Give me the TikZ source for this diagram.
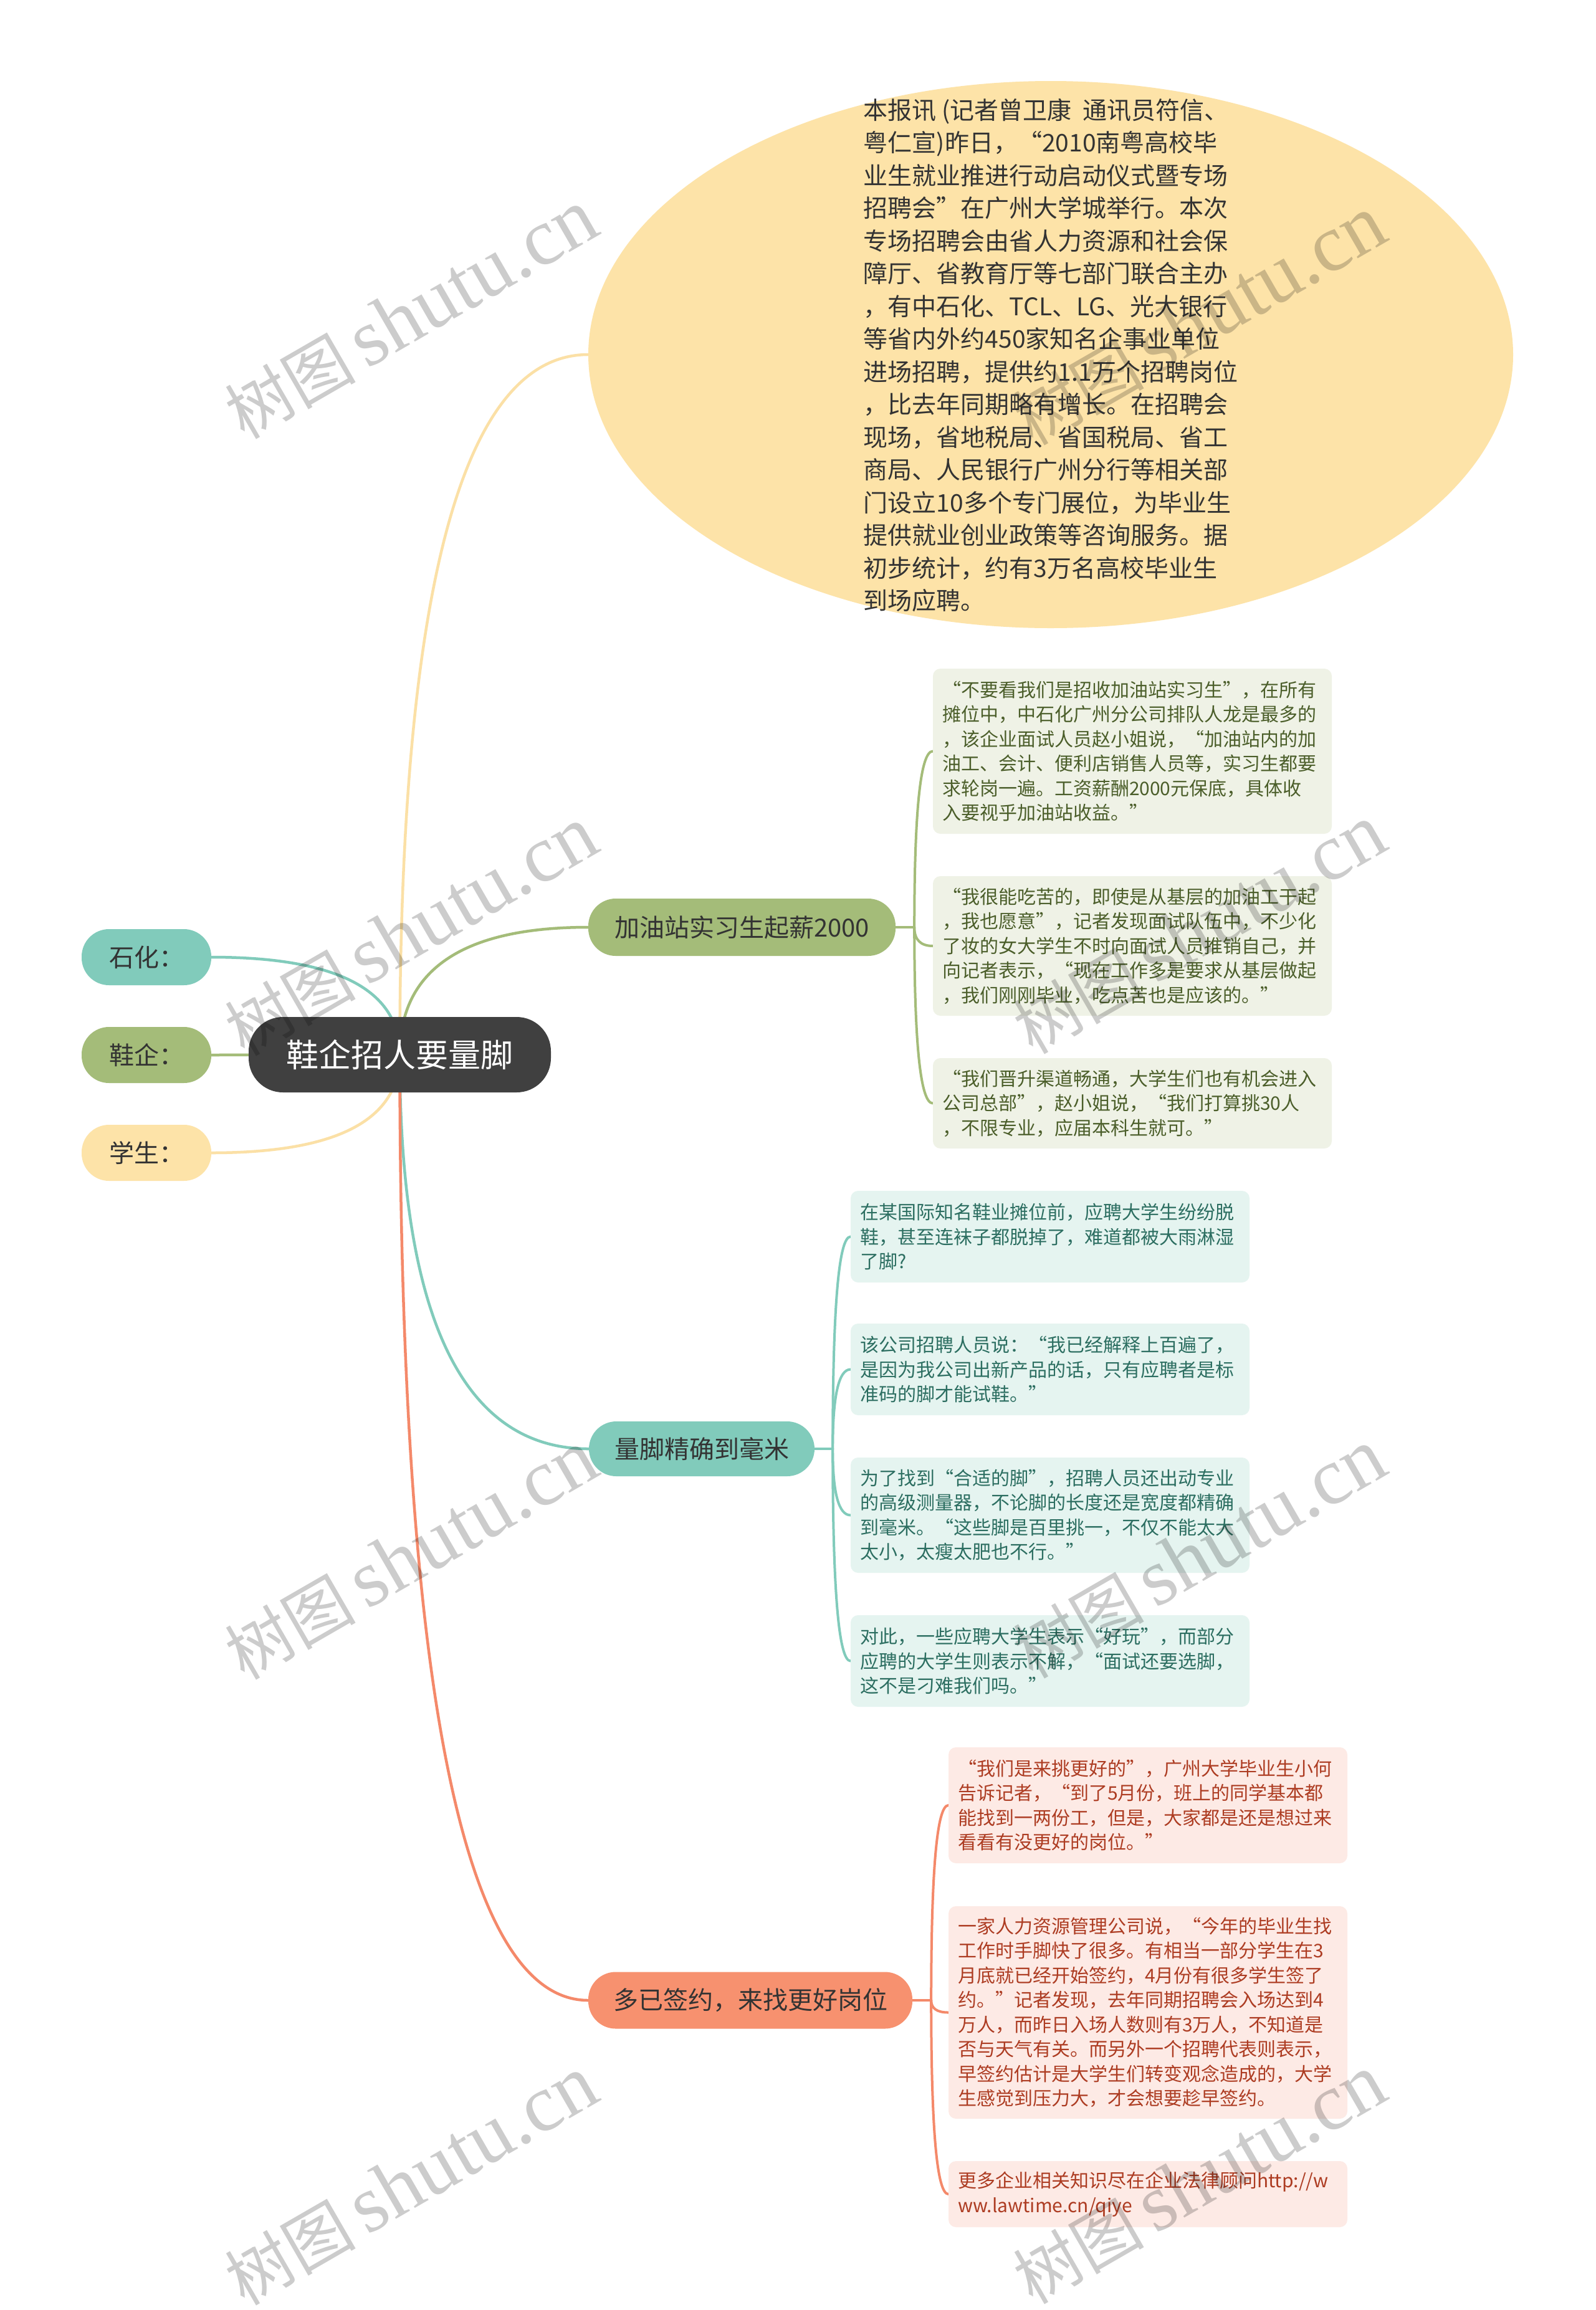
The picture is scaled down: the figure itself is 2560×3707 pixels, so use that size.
\documentclass[tikz,border=0pt]{standalone}
\usepackage{fontspec}
\setmainfont{Noto Sans CJK SC}
\newfontfamily\wmlatin{Liberation Serif}
\usetikzlibrary{calc,shapes.geometric}
\pgfdeclarelayer{bg}
\pgfsetlayers{bg,main}
\definecolor{rootc}{HTML}{404040}
\definecolor{tealc}{HTML}{81CBBB}
\definecolor{olivec}{HTML}{A4BC79}
\definecolor{yelc}{HTML}{FDE3A8}
\definecolor{yell}{HTML}{FBE0A6}
\definecolor{salc}{HTML}{F7916F}
\definecolor{sall}{HTML}{F4896A}
\definecolor{txtc}{HTML}{333333}
\definecolor{gfill}{HTML}{EFF2E6}
\definecolor{gtext}{HTML}{4B5E2A}
\definecolor{tfill}{HTML}{E5F4F0}
\definecolor{ttext}{HTML}{2C6E61}
\definecolor{ofill}{HTML}{FDEAE5}
\definecolor{otext}{HTML}{AD3C22}
\begin{document}
\begin{tikzpicture}[x=1pt,y=-1pt,
  pill/.style={rounded corners=44pt, minimum height=90pt, inner sep=0pt, text=txtc, font=\fontsize{40}{48}\selectfont},
  leaf/.style={rounded corners=12pt, minimum width=640pt, text width=610pt, align=left, inner xsep=15pt, inner ysep=0pt, font=\fontsize{30}{39.5}\selectfont},
  rconn/.style={line width=4.5pt, line cap=round},
  lconn/.style={line width=4pt, line cap=round},
  wm/.style={rotate=30, text=black, text opacity=0.2, inner sep=0pt}
]
\useasboundingbox (0,0) rectangle (2560,3707);

% root and first-level nodes
\node[fill=rootc, rounded corners=55pt, minimum width=485pt, minimum height=121pt, inner sep=0pt, text=white, font=\fontsize{52}{60}\selectfont] (root) at (641.5,1692.5) {鞋企招人要量脚};

\node[pill, fill=tealc, minimum width=208pt] (sh) at (235,1536) {石化：};
\node[pill, fill=olivec, minimum width=208pt] (xq) at (235,1693) {鞋企：};
\node[pill, fill=yelc, minimum width=208pt] (xs) at (235,1850) {学生：};

\node[ellipse, fill=yelc, minimum width=1484pt, minimum height=878pt, inner sep=0pt] (ell) at (1686,569) {};
\node[align=left, inner sep=0pt, text=txtc, font=\fontsize{39}{52.5}\selectfont] (elltext) at (1686,570) {本报讯 (记者曾卫康\ \ 通讯员符信、\\
粤仁宣)昨日，“2010南粤高校毕\\
业生就业推进行动启动仪式暨专场\\
招聘会”在广州大学城举行。本次\\
专场招聘会由省人力资源和社会保\\
障厅、省教育厅等七部门联合主办\\
，有中石化、TCL、LG、光大银行\\
等省内外约450家知名企事业单位\\
进场招聘，提供约1.1万个招聘岗位\\
，比去年同期略有增长。在招聘会\\
现场，省地税局、省国税局、省工\\
商局、人民银行广州分行等相关部\\
门设立10多个专门展位，为毕业生\\
提供就业创业政策等咨询服务。据\\
初步统计，约有3万名高校毕业生\\
到场应聘。};

\node[pill, fill=olivec, minimum width=493pt, minimum height=92pt] (jy) at (1190.5,1488) {加油站实习生起薪2000};
\node[pill, fill=tealc, minimum width=362pt, minimum height=88pt] (lj) at (1126,2325) {量脚精确到毫米};
\node[pill, fill=salc, minimum width=520pt, minimum height=91pt] (dq) at (1204,3210) {多已签约，来找更好岗位};

% green leaves
\node[leaf, fill=gfill, text=gtext, minimum height=265pt] (g1) at (1817,1205.5) {“不要看我们是招收加油站实习生”，在所有\\
摊位中，中石化广州分公司排队人龙是最多的\\
，该企业面试人员赵小姐说，“加油站内的加\\
油工、会计、便利店销售人员等，实习生都要\\
求轮岗一遍。工资薪酬2000元保底，具体收\\
入要视乎加油站收益。”};
\node[leaf, fill=gfill, text=gtext, minimum height=224pt] (g2) at (1817,1518) {“我很能吃苦的，即使是从基层的加油工干起\\
，我也愿意”，记者发现面试队伍中，不少化\\
了妆的女大学生不时向面试人员推销自己，并\\
向记者表示，“现在工作多是要求从基层做起\\
，我们刚刚毕业，吃点苦也是应该的。”};
\node[leaf, fill=gfill, text=gtext, minimum height=145pt] (g3) at (1817,1770.5) {“我们晋升渠道畅通，大学生们也有机会进入\\
公司总部”，赵小姐说，“我们打算挑30人\\
，不限专业，应届本科生就可。”};

% teal leaves
\node[leaf, fill=tfill, text=ttext, minimum height=147pt] (t1) at (1685,1984.5) {在某国际知名鞋业摊位前，应聘大学生纷纷脱\\
鞋，甚至连袜子都脱掉了，难道都被大雨淋湿\\
了脚?};
\node[leaf, fill=tfill, text=ttext, minimum height=147pt] (t2) at (1685,2197.5) {该公司招聘人员说：“我已经解释上百遍了，\\
是因为我公司出新产品的话，只有应聘者是标\\
准码的脚才能试鞋。”};
\node[leaf, fill=tfill, text=ttext, minimum height=185pt] (t3) at (1685,2431.5) {为了找到“合适的脚”，招聘人员还出动专业\\
的高级测量器，不论脚的长度还是宽度都精确\\
到毫米。“这些脚是百里挑一，不仅不能太大\\
太小，太瘦太肥也不行。”};
\node[leaf, fill=tfill, text=ttext, minimum height=147pt] (t4) at (1685,2665.5) {对此，一些应聘大学生表示“好玩”，而部分\\
应聘的大学生则表示不解，“面试还要选脚，\\
这不是刁难我们吗。”};

% orange leaves
\node[leaf, fill=ofill, text=otext, minimum height=186pt] (o1) at (1842,2897) {“我们是来挑更好的”，广州大学毕业生小何\\
告诉记者，“到了5月份，班上的同学基本都\\
能找到一两份工，但是，大家都是还是想过来\\
看看有没更好的岗位。”};
\node[leaf, fill=ofill, text=otext, minimum height=341pt] (o2) at (1842,3229.5) {一家人力资源管理公司说，“今年的毕业生找\\
工作时手脚快了很多。有相当一部分学生在3\\
月底就已经开始签约，4月份有很多学生签了\\
约。”记者发现，去年同期招聘会入场达到4\\
万人，而昨日入场人数则有3万人，不知道是\\
否与天气有关。而另外一个招聘代表则表示，\\
早签约估计是大学生们转变观念造成的，大学\\
生感觉到压力大，才会想要趁早签约。};
\node[leaf, fill=ofill, text=otext, minimum height=106pt] (o3) at (1842,3521) {更多企业相关知识尽在企业法律顾问http://w\\
ww.lawtime.cn/qiye};

% connectors
\begin{pgfonlayer}{bg}
\fill[white] (0,0) rectangle (2560,3707);
% root to first level
\coordinate (cE) at (root.center|-ell.west);
\draw[rconn, draw=yell] (root.center) .. controls ($(root.center)!2/3!(cE)$) and ($(ell.west)!2/3!(cE)$) .. (ell.west);
\coordinate (cJ) at (root.center|-jy.west);
\draw[rconn, draw=olivec] (root.center) .. controls ($(root.center)!2/3!(cJ)$) and ($(jy.west)!2/3!(cJ)$) .. (jy.west);
\coordinate (cL) at (root.center|-lj.west);
\draw[rconn, draw=tealc] (root.center) .. controls ($(root.center)!2/3!(cL)$) and ($(lj.west)!2/3!(cL)$) .. (lj.west);
\coordinate (cD) at (root.center|-dq.west);
\draw[rconn, draw=sall] (root.center) .. controls ($(root.center)!2/3!(cD)$) and ($(dq.west)!2/3!(cD)$) .. (dq.west);
\coordinate (cS) at (root.center|-sh.east);
\draw[rconn, draw=tealc] (root.center) .. controls ($(root.center)!2/3!(cS)$) and ($(sh.east)!2/3!(cS)$) .. (sh.east);
\draw[rconn, draw=olivec] (root.center) -- (xq.east);
\coordinate (cX) at (root.center|-xs.east);
\draw[rconn, draw=yell] (root.center) .. controls ($(root.center)!2/3!(cX)$) and ($(xs.east)!2/3!(cX)$) .. (xs.east);

% green bracket
\coordinate (jyP) at ($(jy.east)+(30,0)$);
\draw[lconn, draw=olivec] (jy.east) -- (jyP);
\coordinate (g1c) at (jyP|-g1.west);
\draw[lconn, draw=olivec] (jyP) .. controls ($(jyP)!2/3!(g1c)$) and ($(g1.west)!2/3!(g1c)$) .. (g1.west);
\coordinate (g2c) at (jyP|-g2.west);
\draw[lconn, draw=olivec] (jyP) .. controls ($(jyP)!2/3!(g2c)$) and ($(g2.west)!2/3!(g2c)$) .. (g2.west);
\coordinate (g3c) at (jyP|-g3.west);
\draw[lconn, draw=olivec] (jyP) .. controls ($(jyP)!2/3!(g3c)$) and ($(g3.west)!2/3!(g3c)$) .. (g3.west);

% teal bracket
\coordinate (ljP) at ($(lj.east)+(29,0)$);
\draw[lconn, draw=tealc] (lj.east) -- (ljP);
\coordinate (t1c) at (ljP|-t1.west);
\draw[lconn, draw=tealc] (ljP) .. controls ($(ljP)!2/3!(t1c)$) and ($(t1.west)!2/3!(t1c)$) .. (t1.west);
\coordinate (t2c) at (ljP|-t2.west);
\draw[lconn, draw=tealc] (ljP) .. controls ($(ljP)!2/3!(t2c)$) and ($(t2.west)!2/3!(t2c)$) .. (t2.west);
\coordinate (t3c) at (ljP|-t3.west);
\draw[lconn, draw=tealc] (ljP) .. controls ($(ljP)!2/3!(t3c)$) and ($(t3.west)!2/3!(t3c)$) .. (t3.west);
\coordinate (t4c) at (ljP|-t4.west);
\draw[lconn, draw=tealc] (ljP) .. controls ($(ljP)!2/3!(t4c)$) and ($(t4.west)!2/3!(t4c)$) .. (t4.west);

% orange bracket
\coordinate (dqP) at ($(dq.east)+(30,0)$);
\draw[lconn, draw=sall] (dq.east) -- (dqP);
\coordinate (o1c) at (dqP|-o1.west);
\draw[lconn, draw=sall] (dqP) .. controls ($(dqP)!2/3!(o1c)$) and ($(o1.west)!2/3!(o1c)$) .. (o1.west);
\coordinate (o2c) at (dqP|-o2.west);
\draw[lconn, draw=sall] (dqP) .. controls ($(dqP)!2/3!(o2c)$) and ($(o2.west)!2/3!(o2c)$) .. (o2.west);
\coordinate (o3c) at (dqP|-o3.west);
\draw[lconn, draw=sall] (dqP) .. controls ($(dqP)!2/3!(o3c)$) and ($(o3.west)!2/3!(o3c)$) .. (o3.west);
\end{pgfonlayer}

% watermarks
\foreach \wx/\wy [count=\wi] in {660/505, 1925/515, 660/1495, 1925/1492, 660/2496, 1925/2494, 660/3500, 1925/3498}{
  \node[wm] (wm\wi) at (\wx,\wy) {\fontsize{105}{105}\selectfont 树图\,{\wmlatin\fontsize{130}{130}\selectfont shutu.cn}};
}
\end{tikzpicture}
\end{document}
